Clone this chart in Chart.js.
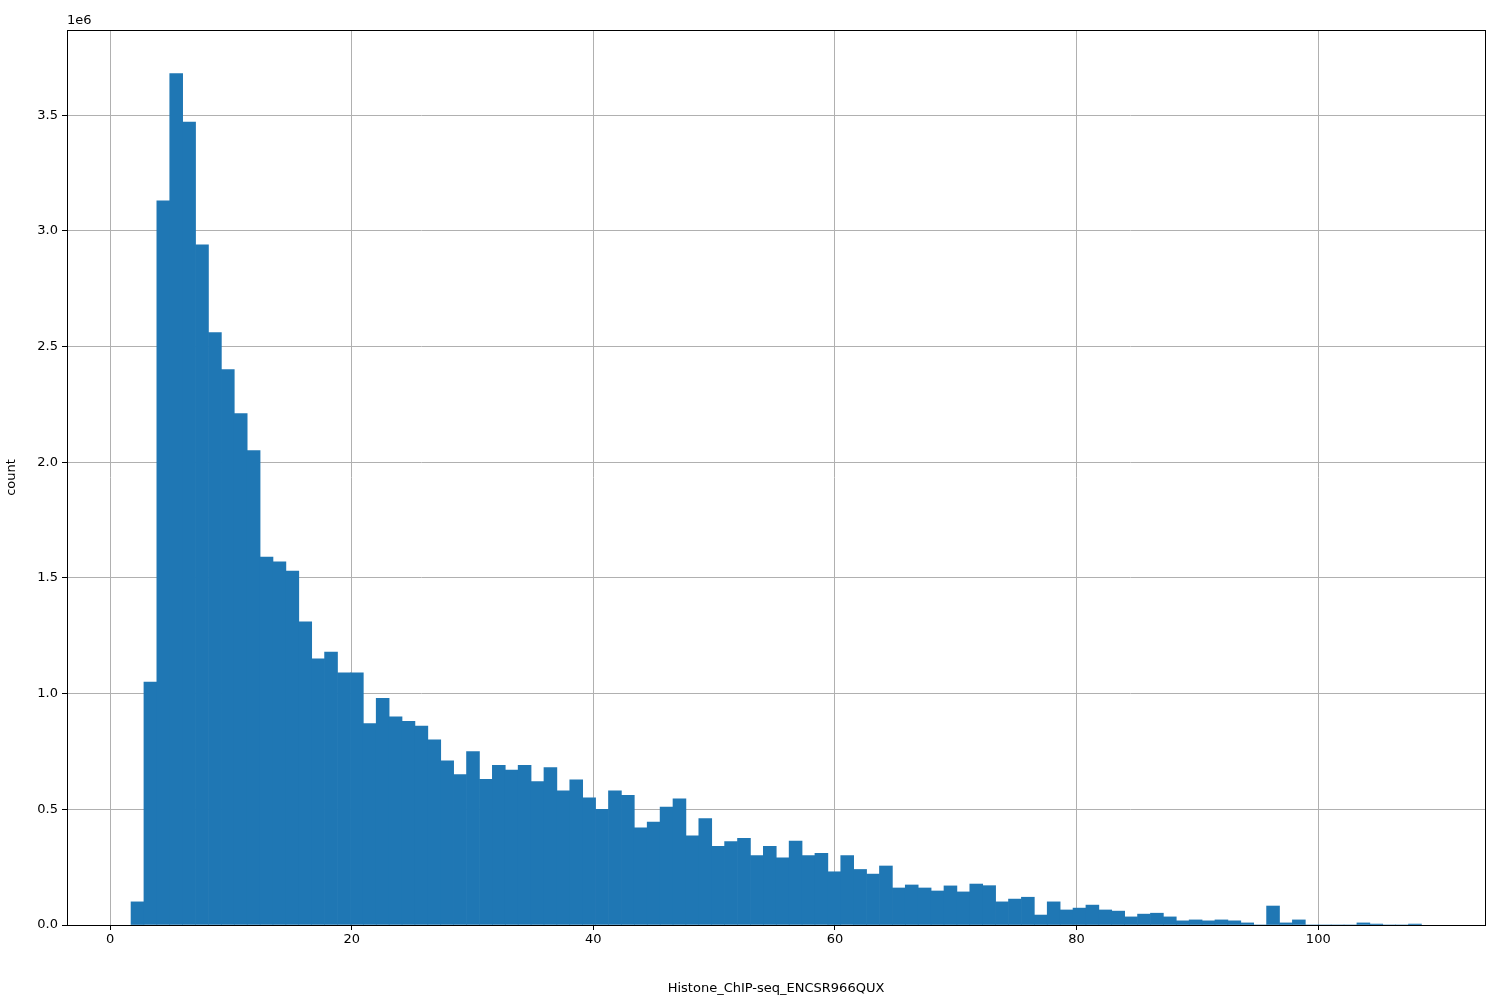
<!DOCTYPE html>
<html><head><meta charset="utf-8">
<script src="https://cdn.jsdelivr.net/npm/chart.js@4"></script>
<style>html,body{margin:0;padding:0;background:#fff}#w{width:1500px;height:1000px}</style>
</head><body><div id="w"><canvas id="c" width="1500" height="1000"></canvas></div>
<script>
const binStart = 1.74;
const binWidth = 1.068;
const counts = [0.10,1.05,3.13,3.68,3.47,2.94,2.56,2.40,2.21,2.05,
1.59,1.57,1.53,1.31,1.15,1.18,1.09,1.09,0.87,0.98,
0.90,0.88,0.86,0.80,0.71,0.65,0.75,0.63,0.69,0.67,
0.69,0.62,0.68,0.58,0.627,0.55,0.50,0.58,0.56,0.42,
0.445,0.51,0.545,0.385,0.46,0.34,0.36,0.375,0.30,0.34,
0.29,0.363,0.30,0.31,0.23,0.30,0.24,0.22,0.255,0.16,
0.173,0.16,0.147,0.169,0.143,0.177,0.17,0.10,0.112,0.12,
0.043,0.10,0.065,0.073,0.086,0.065,0.06,0.035,0.047,0.051,
0.035,0.018,0.022,0.018,0.022,0.018,0.009,0,0.082,0.009,
0.022,0,0,0,0,0.009,0.004,0,0,0.004];
const xTicks = [0,20,40,60,80,100];
const yTicks = [0,0.5,1.0,1.5,2.0,2.5,3.0,3.5];
const xLabel = "Histone_ChIP-seq_ENCSR966QUX";
const yLabel = "count";

const data = counts.map((v,i)=>({x: binStart + binWidth*(i+0.5), y: v*1e6}));
const frame = {id:'frame', afterDraw(ch){const a=ch.chartArea,c=ch.ctx;c.save();c.strokeStyle='#000';c.lineWidth=1;
c.strokeRect(Math.round(a.left)+0.5,Math.round(a.top)+0.5,Math.round(a.right-a.left),Math.round(a.bottom-a.top));
c.fillStyle='#000';c.font='13px "DejaVu Sans"';c.textAlign='left';c.textBaseline='bottom';c.fillText('1e6',a.left,a.top-3);c.restore();}};
new Chart(document.getElementById('c'),{
 type:'bar',
 data:{datasets:[{data, backgroundColor:'#1f77b4', borderWidth:0, barPercentage:1, categoryPercentage:1, grouped:false}]},
 options:{responsive:false,animation:false,
  layout:{padding:{top:30,right:15,left:0,bottom:0}},
  plugins:{legend:{display:false},tooltip:{enabled:false}},
  scales:{
   x:{type:'linear',min:-3.56,max:113.8,z:1,offset:false,
     afterBuildTicks(s){s.ticks=xTicks.map(v=>({value:v}));},
     afterFit(s){s.height=75;},
     grid:{color:'#b0b0b0',tickColor:'#000',tickLength:5,offset:false},
     border:{display:false},
     ticks:{color:'#000',font:{family:'DejaVu Sans',size:13},maxRotation:0,padding:2,callback:v=>String(v)},
     title:{display:true,text:xLabel,color:'#000',font:{family:'DejaVu Sans',size:13},padding:{top:14}}},
   y:{min:0,max:3.868e6,z:1,
     afterBuildTicks(s){s.ticks=yTicks.map(v=>({value:v*1e6}));},
     afterFit(s){s.width=67;},
     grid:{color:'#b0b0b0',tickColor:'#000',tickLength:5},
     border:{display:false},
     ticks:{color:'#000',font:{family:'DejaVu Sans',size:13},padding:4,callback:v=>(v/1e6).toFixed(1)},
     title:{display:true,text:yLabel,color:'#000',font:{family:'DejaVu Sans',size:13},padding:{bottom:2}}}
  }},
 plugins:[frame]});
</script></body></html>
